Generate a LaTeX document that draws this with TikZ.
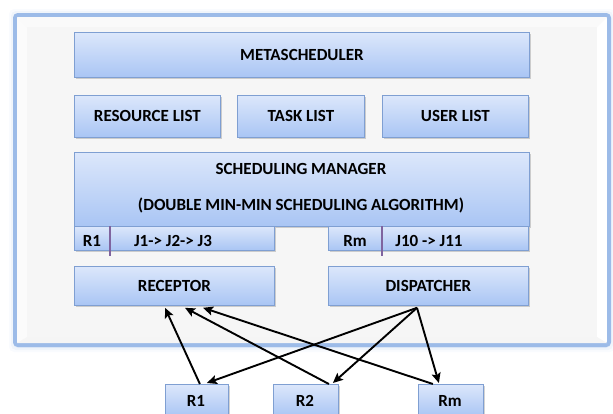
\documentclass[tikz,border=0pt]{standalone}
\usepackage{fontspec}
\setmainfont{Carlito}
\usetikzlibrary{arrows.meta,shadows,calc}
\definecolor{boxtop}{HTML}{DCE7FB}
\definecolor{boxbot}{HTML}{A9C5F4}
\definecolor{boxline}{HTML}{7F9FD2}
\definecolor{frameline}{HTML}{9CBBE8}
\definecolor{panel}{HTML}{F6F6F6}
\definecolor{divider}{HTML}{7F649F}
\tikzset{
  blk/.style={draw=boxline, line width=0.8pt, top color=boxtop, bottom color=boxbot,
    drop shadow={shadow xshift=1.2pt, shadow yshift=-1.5pt, opacity=0.35},
    font=\bfseries\fontsize{17}{20}\selectfont, text=black, inner sep=0pt},
  lbl/.style={font=\bfseries\fontsize{17}{20}\selectfont, text=black, inner sep=0pt},
  link/.style={line width=1.9pt, -{Stealth[length=10pt,width=9pt,inset=2pt]}},
  divline/.style={draw=divider, line width=1.4pt},
}
\begin{document}
\begin{tikzpicture}[x=1pt,y=-1pt]
\useasboundingbox (0,0) rectangle (613,413);
% soft glow round the outer frame
\foreach \g/\o in {6/0.06,4/0.10,2/0.16}{
  \fill[frameline, opacity=\o, rounded corners=5pt] (15-\g,15-\g) rectangle (609+\g,346+\g);
}
% outer bevelled frame
\draw[frameline, line width=4pt, fill=white, rounded corners=3pt] (15,15) rectangle (609,345);
\fill[panel] (27,27) rectangle (597,337);
\fill[white!60!panel] (17,17) -- (27,27) -- (27,337) -- (17,343) -- cycle;
\fill[white!40!panel] (17,17) -- (607,17) -- (597,27) -- (27,27) -- cycle;
\fill[black!4] (27,337) -- (597,337) -- (607,343) -- (17,343) -- cycle;

% boxes
\node[blk, minimum width=455, minimum height=45, anchor=north west] (meta) at (74,32) {METASCHEDULER};
\node[blk, minimum width=146, minimum height=42, anchor=north west] (res) at (74,95) {RESOURCE LIST};
\node[blk, minimum width=127, minimum height=42, anchor=north west] (task) at (237,95) {TASK LIST};
\node[blk, minimum width=146, minimum height=42, anchor=north west] (user) at (382,95) {USER LIST};
\node[blk, minimum width=455, minimum height=74, anchor=north west] (mgr) at (74,152) {};
\node[lbl] (mgrt) at (301,169) {SCHEDULING MANAGER};
\node[lbl] (mgra) at (301,205) {(DOUBLE MIN-MIN SCHEDULING ALGORITHM)};
\node[blk, minimum width=200, minimum height=24, anchor=north west] (q1) at (74,226) {};
\node[blk, minimum width=200, minimum height=24, anchor=north west] (qm) at (328,226) {};
\draw[divline] (110,226) -- (110,256);
\draw[divline] (382,226) -- (382,256);
\node[lbl] (q1r) at (92,241) {R1};
\node[lbl] (q1j) at (173,241) {J1-> J2-> J3};
\node[lbl] (qmr) at (355,241) {Rm};
\node[lbl] (qmj) at (429,241) {J10 -> J11};
\node[blk, minimum width=200, minimum height=39, anchor=north west] (rec) at (74,266) {RECEPTOR};
\node[blk, minimum width=200, minimum height=39, anchor=north west] (dis) at (328,266) {DISPATCHER};
\node[blk, minimum width=63, minimum height=32, anchor=north west] (r1) at (165,384) {};
\node[blk, minimum width=65, minimum height=32, anchor=north west] (r2) at (273,384) {};
\node[blk, minimum width=65, minimum height=32, anchor=north west] (rm) at (418,384) {};
\node[lbl] (r1t) at (196,401) {R1};
\node[lbl] (r2t) at (305,401) {R2};
\node[lbl] (rmt) at (450,401) {Rm};

% connectors
\coordinate (disout) at ($(dis.south west)+(89,2)$);
\draw[link] ([xshift=3]r1.north) -- ($(rec.south west)+(91,2)$);
\draw[link] ([xshift=23]r2.north) -- ($(rec.south west)+(111,2)$);
\draw[link] ([xshift=-18]rm.north) -- ($(rec.south west)+(129,2)$);
\draw[link] (disout) -- ([xshift=10,yshift=1]r1.north);
\draw[link] (disout) -- ([xshift=27,yshift=1]r2.north);
\draw[link] (disout) -- ([xshift=-12,yshift=1]rm.north);
\end{tikzpicture}
\end{document}
